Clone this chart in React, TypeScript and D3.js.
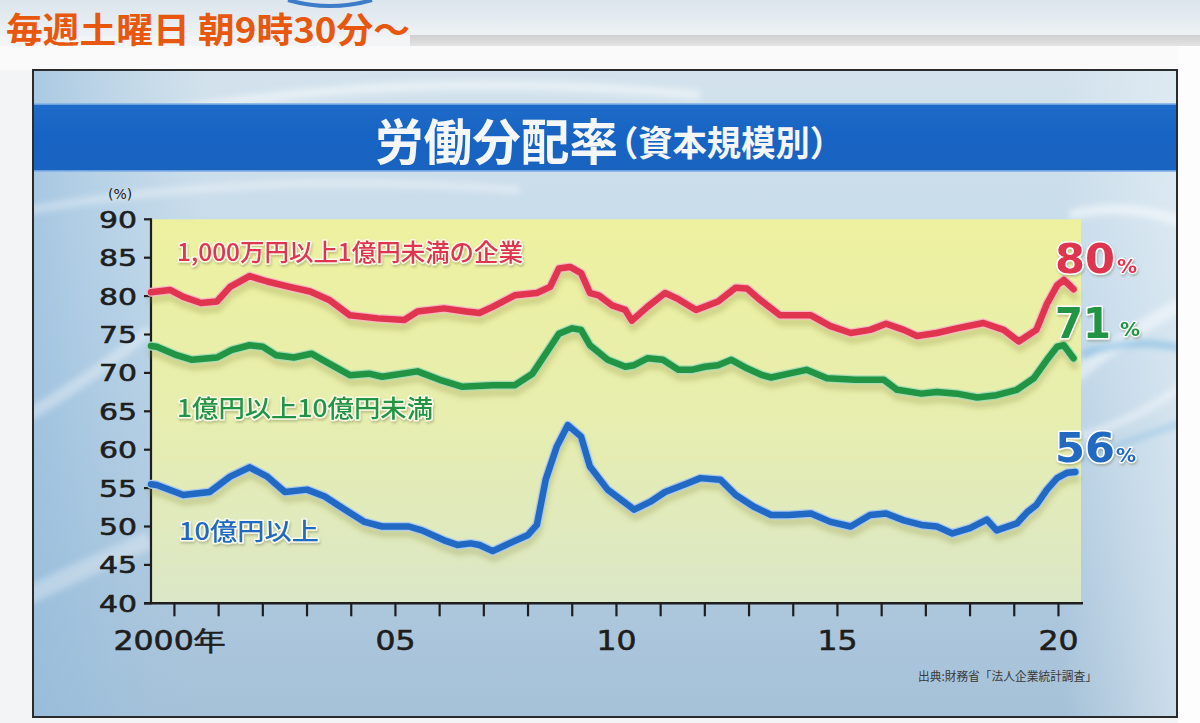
import React from "react";
import * as d3 from "d3";

// ---------- data ----------
const redYears = [1999.47, 1999.9, 2000.2, 2000.6, 2000.96, 2001.26, 2001.7, 2002.1, 2002.6, 2003.07, 2003.5, 2003.97, 2004.6, 2005.2, 2005.5, 2006.1, 2006.6, 2006.9, 2007.2, 2007.7, 2008.2, 2008.5, 2008.7, 2008.95, 2009.2, 2009.4, 2009.6, 2009.9, 2010.2, 2010.35, 2010.7, 2011.1, 2011.4, 2011.8, 2012.3, 2012.7, 2012.95, 2013.25, 2013.7, 2014.4, 2014.84, 2015.3, 2015.74, 2016.1, 2016.5, 2016.8, 2017.25, 2017.7, 2018.3, 2018.76, 2019.1, 2019.5, 2019.74, 2019.97, 2020.12, 2020.34];
const redValues = [80.5, 80.8, 79.9, 79.1, 79.3, 81.2, 82.6, 81.9, 81.2, 80.6, 79.5, 77.5, 77.1, 76.9, 78.0, 78.4, 78.0, 77.8, 78.6, 80.1, 80.4, 81.2, 83.6, 83.8, 83.0, 80.4, 80.1, 78.8, 78.2, 76.8, 78.6, 80.4, 79.6, 78.2, 79.3, 81.1, 81.0, 79.5, 77.5, 77.5, 76.1, 75.2, 75.6, 76.4, 75.6, 74.8, 75.2, 75.8, 76.5, 75.6, 74.1, 75.6, 79.0, 81.4, 82.1, 80.9];

const greenYears = [1999.47, 1999.6, 2000.05, 2000.4, 2000.96, 2001.3, 2001.7, 2002.0, 2002.3, 2002.7, 2003.1, 2003.5, 2003.97, 2004.4, 2004.7, 2005.5, 2006.0, 2006.5, 2007.2, 2007.7, 2008.1, 2008.4, 2008.7, 2009.0, 2009.2, 2009.4, 2009.8, 2010.2, 2010.4, 2010.7, 2011.05, 2011.4, 2011.7, 2012.0, 2012.3, 2012.6, 2012.95, 2013.3, 2013.5, 2013.9, 2014.3, 2014.76, 2015.4, 2016.05, 2016.35, 2016.9, 2017.25, 2017.7, 2018.16, 2018.6, 2019.06, 2019.44, 2019.74, 2019.97, 2020.12, 2020.34];
const greenValues = [73.5, 73.4, 72.3, 71.7, 72.0, 73.0, 73.6, 73.4, 72.3, 72.0, 72.5, 71.2, 69.7, 69.9, 69.5, 70.2, 69.1, 68.2, 68.4, 68.4, 69.9, 72.5, 75.1, 75.8, 75.6, 73.6, 71.7, 70.8, 71.0, 71.9, 71.7, 70.4, 70.4, 70.8, 71.0, 71.7, 70.6, 69.7, 69.4, 69.9, 70.4, 69.3, 69.1, 69.1, 67.8, 67.3, 67.5, 67.3, 66.8, 67.1, 67.8, 69.3, 71.7, 73.4, 73.6, 71.9];

const blueYears = [1999.47, 1999.6, 2000.2, 2000.8, 2001.26, 2001.7, 2002.1, 2002.5, 2003.0, 2003.4, 2003.8, 2004.3, 2004.7, 2005.3, 2005.6, 2006.1, 2006.4, 2006.7, 2006.9, 2007.2, 2007.5, 2008.0, 2008.2, 2008.4, 2008.65, 2008.9, 2009.2, 2009.4, 2009.8, 2010.1, 2010.4, 2010.76, 2011.1, 2011.6, 2011.9, 2012.35, 2012.7, 2013.1, 2013.5, 2013.9, 2014.4, 2014.84, 2015.3, 2015.74, 2016.1, 2016.5, 2016.9, 2017.25, 2017.6, 2018.0, 2018.38, 2018.6, 2019.06, 2019.3, 2019.5, 2019.74, 2019.97, 2020.2, 2020.38];
const blueValues = [55.5, 55.4, 54.1, 54.5, 56.5, 57.7, 56.5, 54.5, 54.8, 53.9, 52.4, 50.6, 50.0, 50.0, 49.5, 48.2, 47.6, 47.8, 47.6, 46.8, 47.6, 48.9, 50.2, 56.1, 60.4, 63.2, 61.7, 57.8, 54.8, 53.5, 52.2, 53.2, 54.5, 55.6, 56.3, 56.1, 54.1, 52.6, 51.5, 51.5, 51.7, 50.6, 50.0, 51.5, 51.7, 50.8, 50.2, 50.0, 49.1, 49.8, 50.9, 49.5, 50.4, 51.9, 52.8, 54.8, 56.3, 57.0, 57.1];

const seriesNames = ["1,000万円以上1億円未満の企業", "1億円以上10億円未満", "10億円以上"];
const endLabels = ["80", "71", "56"];
const yTicks = [40, 45, 50, 55, 60, 65, 70, 75, 80, 85, 90];
const xTickYears = d3.range(2000, 2021);
const xLabelYears = [2000, 2005, 2010, 2015, 2020];
const xLabelTexts = ["2000年", "05", "10", "15", "20"];

const bannerText = "毎週土曜日 朝9時30分～";
const titleMain = "労働分配率";
const titleSub = "（資本規模別）";
const sourceText = "出典:財務省「法人企業統計調査」";

// ---------- layout ----------
const W = 1200;
const H = 723;
const PL = 151, PR = 1081, PT = 219.3, PB = 603.3;

const x = d3.scaleLinear().domain([1999.47, 2020.51]).range([PL, PR]);
const y = d3.scaleLinear().domain([40, 90]).range([PB, PT]);

const NUM_FONT = "'DejaVu Sans', 'Noto Sans', sans-serif";
const JP_FONT = "'Noto Sans CJK JP', 'Noto Sans', sans-serif";

const styles = [
  { color: "#e0344f", light: "#f7b9c3", labelX: 177, labelW: 346, labelY: 261, endDy: -16, endW: 60, endSize: 40, pctDx: 2, pctDy: 0 },
  { color: "#229545", light: "#a9dcb5", labelX: 177, labelW: 256, labelY: 417, endDy: -20, endW: 56, endSize: 42, pctDx: 9, pctDy: -2 },
  { color: "#2169c2", light: "#a9c9ef", labelX: 179, labelW: 140, labelY: 540, endDy: -10, endW: 60, endSize: 40, pctDx: 1, pctDy: 0 },
];

export default function App() {
  const data: [number, number][][] = [
    redYears.map((t, i) => [t, redValues[i]] as [number, number]),
    greenYears.map((t, i) => [t, greenValues[i]] as [number, number]),
    blueYears.map((t, i) => [t, blueValues[i]] as [number, number]),
  ];
  const line = d3
    .line<[number, number]>()
    .x((d) => x(d[0]))
    .y((d) => y(d[1]))
    .curve(d3.curveLinear);

  return (
    <svg
      width={W}
      height={H}
      viewBox={`0 0 ${W} ${H}`}
      style={{ position: "absolute", left: 0, top: 0, display: "block" }}
    >
      <defs>
        <linearGradient id="topBand" x1="0" y1="0" x2="0" y2="1">
          <stop offset="0" stopColor="#dbe5ec" />
          <stop offset="1" stopColor="#eef2f5" />
        </linearGradient>
        <linearGradient id="grayBand" x1="0" y1="0" x2="0" y2="1">
          <stop offset="0" stopColor="#cfcfcf" />
          <stop offset="1" stopColor="#e4e4e4" />
        </linearGradient>
        <linearGradient id="frameBg" x1="0" y1="0" x2="0" y2="1">
          <stop offset="0" stopColor="#d3e2ec" />
          <stop offset="0.35" stopColor="#c3d9ea" />
          <stop offset="1" stopColor="#a5c1d8" />
        </linearGradient>
        <linearGradient id="frameSide" x1="0" y1="0" x2="1" y2="0">
          <stop offset="0" stopColor="#8fb9dc" stopOpacity="0.6" />
          <stop offset="0.15" stopColor="#9fc3df" stopOpacity="0" />
          <stop offset="0.9" stopColor="#e6f0f6" stopOpacity="0" />
          <stop offset="1" stopColor="#e6f0f6" stopOpacity="0.6" />
        </linearGradient>
        <linearGradient id="plotBg" x1="0" y1="0" x2="0" y2="1">
          <stop offset="0" stopColor="#edf19f" />
          <stop offset="0.5" stopColor="#e7eeae" />
          <stop offset="1" stopColor="#dbe7c7" />
        </linearGradient>
        <linearGradient id="titleBar" x1="0" y1="0" x2="0" y2="1">
          <stop offset="0" stopColor="#1f6bc9" />
          <stop offset="0.5" stopColor="#1763c3" />
          <stop offset="1" stopColor="#1a63c0" />
        </linearGradient>
        <filter id="lineShadow" x="-5%" y="-30%" width="110%" height="160%">
          <feGaussianBlur stdDeviation="2.5" />
        </filter>
        <filter id="textShadow" x="-10%" y="-30%" width="120%" height="160%">
          <feDropShadow dx="1" dy="2" stdDeviation="1.2" floodColor="#5a5a30" floodOpacity="0.3" />
        </filter>
        <filter id="swooshBlur">
          <feGaussianBlur stdDeviation="3" />
        </filter>
        <clipPath id="frameClip">
          <rect x={33} y={70} width={1144} height={647} />
        </clipPath>
      </defs>

      {/* page background */}
      <rect x={0} y={0} width={W} height={H} fill="#f3f4f5" />
      <rect x={0} y={0} width={W} height={36} fill="url(#topBand)" />
      <rect x={410} y={35} width={W - 410} height={11} fill="url(#grayBand)" />
      <rect x={0} y={46} width={W} height={24} fill="#fafafa" />
      <rect x={1178} y={46} width={22} height={H - 46} fill="#fdfdfd" />
      <path d="M288,0 Q330,12 372,0" fill="none" stroke="#3c7cc8" strokeWidth={4} />

      <text
        x={6}
        y={43}
        fontFamily={JP_FONT}
        fontWeight={700}
        fontSize={35}
        fill="#e8570e"
        textLength={404}
        lengthAdjust="spacingAndGlyphs"
      >
        {bannerText}
      </text>

      {/* frame */}
      <g clipPath="url(#frameClip)">
        <rect x={33} y={70} width={1144} height={647} fill="url(#frameBg)" />
        <rect x={33} y={70} width={1144} height={647} fill="url(#frameSide)" />
        <g filter="url(#swooshBlur)" fill="none" stroke="#ffffff">
          <path d="M20,150 Q300,60 700,95" strokeOpacity={0.45} strokeWidth={10} />
          <path d="M30,210 Q250,170 520,190" strokeOpacity={0.35} strokeWidth={8} />
          <path d="M20,420 Q90,380 150,330" strokeOpacity={0.35} strokeWidth={12} />
          <path d="M20,600 Q80,570 150,540" strokeOpacity={0.3} strokeWidth={18} />
          <path d="M1070,215 Q1130,200 1190,225" strokeOpacity={0.5} strokeWidth={10} />
          <path d="M1070,380 Q1130,330 1190,300" strokeOpacity={0.45} strokeWidth={14} />
          <path d="M1070,440 Q1140,420 1190,380" strokeOpacity={0.4} strokeWidth={8} />
        </g>
        <g filter="url(#swooshBlur)" fill="none" stroke="#5aa8dc">
          <path d="M1082,355 Q1130,335 1190,350" strokeOpacity={0.5} strokeWidth={6} />
          <path d="M1082,460 Q1130,440 1190,420" strokeOpacity={0.35} strokeWidth={5} />
        </g>
        {/* title bar */}
        <rect x={33} y={104} width={1144} height={67} fill="url(#titleBar)" />
        <rect x={33} y={103} width={1144} height={2} fill="#7fb0e6" opacity={0.8} />
        <rect x={33} y={170} width={1144} height={2} fill="#7fb0e6" opacity={0.8} />
      </g>
      <rect x={33} y={70} width={1144} height={647} fill="none" stroke="#2b2b2b" strokeWidth={2} />

      {/* title */}
      <text
        x={375}
        y={160}
        fontFamily={JP_FONT}
        fontWeight={700}
        fontSize={49}
        fill="#f4f6f8"
        textLength={243}
        lengthAdjust="spacingAndGlyphs"
      >
        {titleMain}
      </text>
      <text
        x={604}
        y={156}
        fontFamily={JP_FONT}
        fontWeight={700}
        fontSize={35}
        fill="#f4f6f8"
        textLength={240}
        lengthAdjust="spacingAndGlyphs"
      >
        {titleSub}
      </text>

      {/* plot area */}
      <rect x={PL} y={PT} width={PR - PL} height={PB - PT} fill="url(#plotBg)" />

      {/* unit */}
      <text x={108} y={199} fontFamily={NUM_FONT} fontSize={14} fill="#222">
        (%)
      </text>

      {/* y axis */}
      <line x1={PL} y1={PT - 1} x2={PL} y2={PB + 1} stroke="#1e1e1e" strokeWidth={2.2} />
      {yTicks.map((v) => (
        <g key={`y${v}`}>
          <line x1={PL - 7} y1={y(v)} x2={PL} y2={y(v)} stroke="#1e1e1e" strokeWidth={2.2} />
          <text
            x={137}
            y={y(v) + 8.5}
            textAnchor="end"
            fontFamily={NUM_FONT}
            fontSize={23}
            fill="#1e1e1e"
            stroke="#1e1e1e"
            strokeWidth={0.6}
            textLength={38}
            lengthAdjust="spacingAndGlyphs"
          >
            {v}
          </text>
        </g>
      ))}

      {/* x axis */}
      <line x1={PL - 7} y1={PB} x2={PR + 2} y2={PB} stroke="#1e1e1e" strokeWidth={2.4} />
      {xTickYears.map((t) => (
        <line key={`xt${t}`} x1={x(t)} y1={PB} x2={x(t)} y2={PB + 13} stroke="#1e1e1e" strokeWidth={2.2} />
      ))}
      {xLabelYears.map((t, i) => (
        <text
          key={`xl${t}`}
          x={x(t) + (i === 0 ? -5 : 0)}
          y={650}
          textAnchor="middle"
          fontFamily={NUM_FONT}
          fontSize={27}
          fill="#1e1e1e"
          stroke="#1e1e1e"
          strokeWidth={0.6}
          textLength={i === 0 ? 112 : 40}
          lengthAdjust="spacingAndGlyphs"
        >
          {xLabelTexts[i]}
        </text>
      ))}

      {/* line shadows */}
      {data.map((d, i) => (
        <path
          key={`sh${i}`}
          d={line(d) || ""}
          transform="translate(1,7)"
          fill="none"
          stroke="#8a8a3c"
          strokeOpacity={0.28}
          strokeWidth={8}
          strokeLinejoin="round"
          strokeLinecap="round"
          filter="url(#lineShadow)"
        />
      ))}
      {/* lines */}
      {data.map((d, i) => (
        <g key={`ln${i}`}>
          <path
            d={line(d) || ""}
            fill="none"
            stroke={styles[i].light}
            strokeWidth={9}
            strokeLinejoin="round"
            strokeLinecap="round"
          />
          <path
            d={line(d) || ""}
            fill="none"
            stroke={styles[i].color}
            strokeWidth={6.5}
            strokeLinejoin="round"
            strokeLinecap="round"
          />
        </g>
      ))}

      {/* series labels */}
      {seriesNames.map((name, i) => (
        <text
          key={`nm${i}`}
          x={styles[i].labelX}
          y={styles[i].labelY}
          fontFamily={JP_FONT}
          fontWeight={500}
          fontSize={24}
          fill={styles[i].color}
          stroke="#fbfbea"
          strokeWidth={3}
          paintOrder="stroke"
          strokeLinejoin="round"
          textLength={styles[i].labelW}
          lengthAdjust="spacingAndGlyphs"
          filter="url(#textShadow)"
        >
          {name}
        </text>
      ))}

      {/* end value labels */}
      {data.map((d, i) => {
        const last = d[d.length - 1];
        const st = styles[i];
        const bx = 1055;
        const by = y(last[1]) + st.endDy;
        return (
          <g key={`ev${i}`} filter="url(#textShadow)">
            <text
              x={bx}
              y={by}
              fontFamily={NUM_FONT}
              fontWeight={700}
              fontSize={st.endSize}
              fill={st.color}
              stroke="#ffffff"
              strokeWidth={3}
              paintOrder="stroke"
              strokeLinejoin="round"
              textLength={st.endW}
              lengthAdjust="spacingAndGlyphs"
            >
              {endLabels[i]}
            </text>
            <text
              x={bx + st.endW + st.pctDx}
              y={by + st.pctDy}
              fontFamily={NUM_FONT}
              fontWeight={700}
              fontSize={20}
              fill={st.color}
              stroke="#ffffff"
              strokeWidth={2.5}
              paintOrder="stroke"
              strokeLinejoin="round"
            >
              %
            </text>
          </g>
        );
      })}

      {/* source */}
      <text
        x={918}
        y={681}
        fontFamily={JP_FONT}
        fontSize={12}
        fill="#3a3a3a"
        textLength={179}
        lengthAdjust="spacingAndGlyphs"
      >
        {sourceText}
      </text>
    </svg>
  );
}
